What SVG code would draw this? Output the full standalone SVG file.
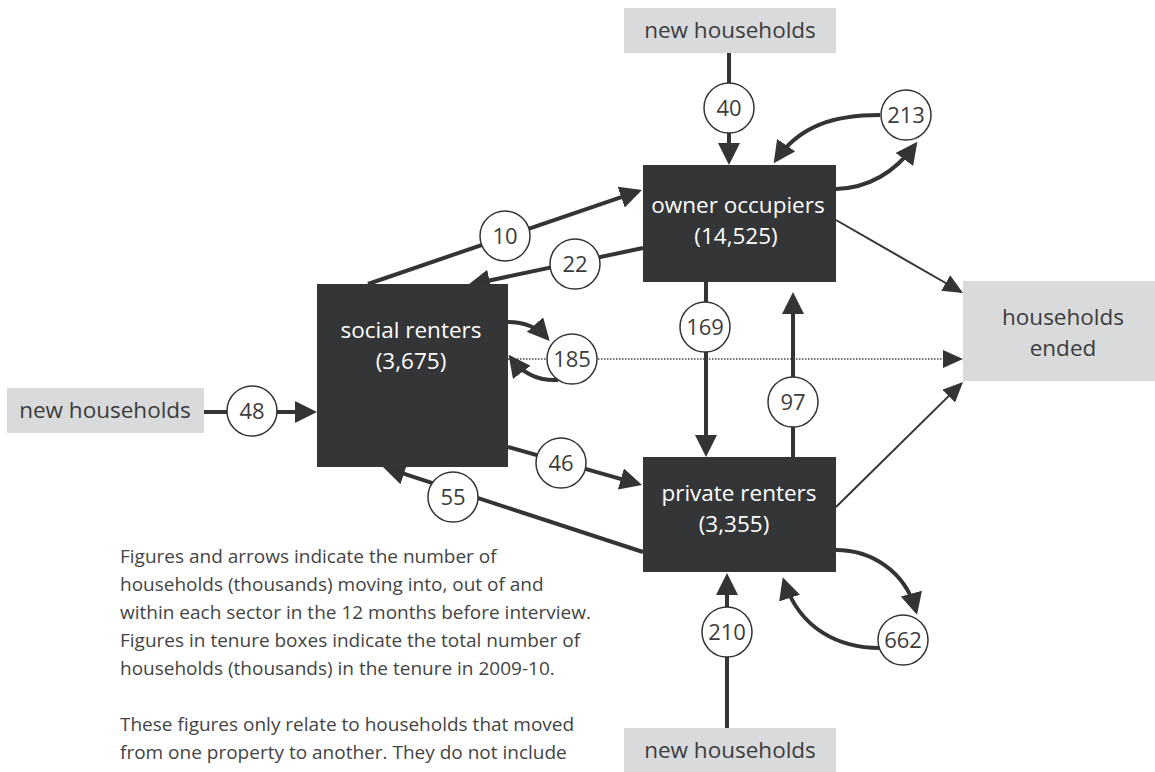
<svg xmlns="http://www.w3.org/2000/svg" width="1155" height="772" viewBox="0 0 1155 772">
<defs>
<style>
.thick{fill:none;stroke:#333436;stroke-width:4}
.thin{fill:none;stroke:#333436;stroke-width:2}
.dot{fill:none;stroke:#444;stroke-width:1.5;stroke-dasharray:1.5 1.5}
.tenure{fill:#343537}
.ext{fill:#d9dadc}
.lbl circle{fill:#fff;stroke:#333436;stroke-width:1.5}
.num{font-family:"Open Sans","Noto Sans","DejaVu Sans",sans-serif;font-size:22px;fill:#3c3c3c;text-anchor:middle}
.tt{font-family:"Open Sans","Noto Sans","DejaVu Sans",sans-serif;font-size:22.5px;fill:#ffffff;text-anchor:middle}
.et{font-family:"Open Sans","Noto Sans","DejaVu Sans",sans-serif;font-size:22.5px;fill:#3c3c3c;text-anchor:middle}
.note{font-family:"Open Sans","Noto Sans","DejaVu Sans",sans-serif;font-size:19px;fill:#444}
</style>
<marker id="ah" markerUnits="userSpaceOnUse" markerWidth="22" markerHeight="22" refX="18" refY="11" orient="auto"><path d="M0,0 L22,11 L0,22 z" fill="#333436"/></marker>
<marker id="ahs" markerUnits="userSpaceOnUse" markerWidth="20" markerHeight="18" refX="18" refY="9" orient="auto"><path d="M0,0 L20,9 L0,18 z" fill="#333436"/></marker>
</defs>

<g id="connectors">
  <path class="dot" d="M508,359 H961" marker-end="url(#ahs)"/>
  <path class="thin" d="M836,220 L961.3,292" marker-end="url(#ahs)"/>
  <path class="thin" d="M836,507 L961.6,383.4" marker-end="url(#ahs)"/>
  <path class="thick" d="M729,53 V161" marker-end="url(#ah)"/>
  <path class="thick" d="M706,282 V453" marker-end="url(#ah)"/>
  <path class="thick" d="M793,457 V296" marker-end="url(#ah)"/>
  <path class="thick" d="M368,284 L638.2,191.3" marker-end="url(#ah)"/>
  <path class="thick" d="M643,248 L471.9,284.2" marker-end="url(#ah)"/>
  <path class="thick" d="M508,447 L638.2,483.9" marker-end="url(#ah)"/>
  <path class="thick" d="M643,552 L386.8,468.2" marker-end="url(#ah)"/>
  <path class="thick" d="M204,412 H313" marker-end="url(#ah)"/>
  <path class="thick" d="M727,728 V577" marker-end="url(#ah)"/>
  <path class="thick" d="M880,115 C835,115 800,125 776,160" marker-end="url(#ah)"/>
  <path class="thick" d="M836,189 C870,188 895,172 915,145" marker-end="url(#ah)"/>
  <path class="thick" d="M508,322 C525,322 538,328 547,338" marker-end="url(#ah)"/>
  <path class="thick" d="M558,380 C540,381 523,374 511,358" marker-end="url(#ah)"/>
  <path class="thick" d="M836,550 C870,550 905,570 916,611" marker-end="url(#ah)"/>
  <path class="thick" d="M880,648 C840,648 800,630 784,581" marker-end="url(#ah)"/>
  <g id="flow-labels" class="lbl">
    <circle cx="729" cy="108" r="25"/><text class="num" x="729" y="116">40</text>
    <circle cx="906" cy="115" r="25"/><text class="num" x="906" y="123">213</text>
    <circle cx="505" cy="236" r="25"/><text class="num" x="505" y="244">10</text>
    <circle cx="575" cy="264" r="25"/><text class="num" x="575" y="272">22</text>
    <circle cx="705" cy="327" r="25"/><text class="num" x="705" y="335">169</text>
    <circle cx="572" cy="359" r="25"/><text class="num" x="572" y="367">185</text>
    <circle cx="793" cy="402" r="25"/><text class="num" x="793" y="410">97</text>
    <circle cx="252" cy="411" r="25"/><text class="num" x="252" y="419">48</text>
    <circle cx="561" cy="463" r="25"/><text class="num" x="561" y="471">46</text>
    <circle cx="453" cy="497" r="25"/><text class="num" x="453" y="505">55</text>
    <circle cx="727" cy="632" r="25"/><text class="num" x="727" y="640">210</text>
    <circle cx="903" cy="640" r="25"/><text class="num" x="903" y="648">662</text>
  </g>
</g>

<g id="new-households-top">
  <rect class="ext" x="624" y="8" width="212" height="45"/>
  <text class="et" x="730" y="38">new households</text>
</g>
<g id="new-households-left">
  <rect class="ext" x="7" y="388" width="197" height="45"/>
  <text class="et" x="105" y="418">new households</text>
</g>
<g id="new-households-bottom">
  <rect class="ext" x="624" y="728" width="212" height="45"/>
  <text class="et" x="730" y="758">new households</text>
</g>
<g id="households-ended">
  <rect class="ext" x="963" y="281" width="192" height="100"/>
  <text class="et" x="1063" y="325">households</text>
  <text class="et" x="1063" y="356">ended</text>
</g>
<g id="owner-occupiers">
  <rect class="tenure" x="643" y="165" width="193" height="117"/>
  <text class="tt" x="738" y="213">owner occupiers</text>
  <text class="tt" x="736" y="244">(14,525)</text>
</g>
<g id="social-renters">
  <rect class="tenure" x="317" y="284" width="191" height="183"/>
  <text class="tt" x="411" y="338">social renters</text>
  <text class="tt" x="411" y="369">(3,675)</text>
</g>
<g id="private-renters">
  <rect class="tenure" x="643" y="457" width="193" height="115"/>
  <text class="tt" x="739" y="501">private renters</text>
  <text class="tt" x="734" y="532">(3,355)</text>
</g>

<g id="note">
  <text class="note" x="120" y="563">Figures and arrows indicate the number of</text>
  <text class="note" x="120" y="591">households (thousands) moving into, out of and</text>
  <text class="note" x="120" y="619">within each sector in the 12 months before interview.</text>
  <text class="note" x="120" y="647">Figures in tenure boxes indicate the total number of</text>
  <text class="note" x="120" y="675">households (thousands) in the tenure in 2009-10.</text>
  <text class="note" x="120" y="731">These figures only relate to households that moved</text>
  <text class="note" x="120" y="759">from one property to another. They do not include</text>
</g>
</svg>
